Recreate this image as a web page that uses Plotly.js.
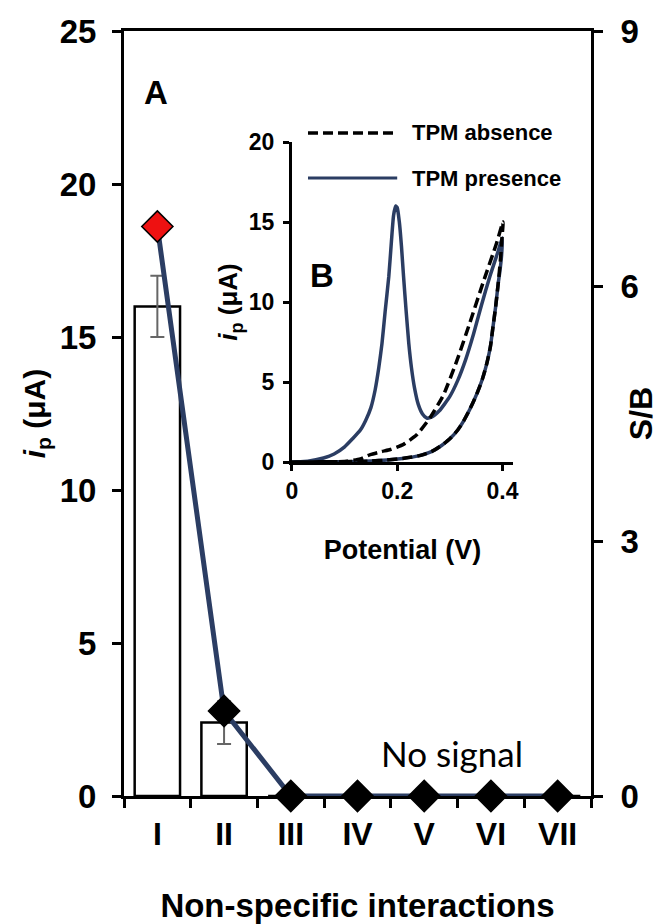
<!DOCTYPE html>
<html>
<head>
<meta charset="utf-8">
<script src="https://cdn.plot.ly/plotly-3.0.1.min.js"></script>
<style>html,body{margin:0;padding:0;background:#fff;}#chart{width:659px;height:924px;}</style>
</head>
<body>
<div id="chart"></div>
<script>
// ---- Main panel (A) data ----
var categories = ['I', 'II', 'III', 'IV', 'V', 'VI', 'VII'];
var ipValues = [16.0, 2.4, 0, 0, 0, 0, 0];
var ipErrors = [1.0, 0.7, 0, 0, 0, 0, 0];
var sbValues = [6.7, 1.0, 0, 0, 0, 0, 0];
var sbMarkerColors = ['#ee1111', '#000000', '#000000', '#000000', '#000000', '#000000', '#000000'];

// ---- Inset (B) data: voltammograms (forward scan then reverse scan) ----
var presenceX = [0.000, 0.030, 0.060, 0.080, 0.100, 0.115, 0.130, 0.140, 0.150, 0.158, 0.165, 0.171, 0.177, 0.184, 0.189, 0.193, 0.197, 0.200, 0.204, 0.208,
                 0.212, 0.217, 0.222, 0.227, 0.233, 0.240, 0.248, 0.256, 0.265, 0.280, 0.300, 0.315, 0.330, 0.345, 0.360, 0.376, 0.390, 0.400,
                 0.398, 0.395, 0.392, 0.387, 0.382, 0.377, 0.370, 0.362, 0.351, 0.338, 0.326, 0.315, 0.300, 0.285, 0.265, 0.240, 0.210, 0.180, 0.150, 0.100, 0.000];
var presenceY = [0.00, 0.05, 0.25, 0.50, 0.95, 1.45, 2.00, 2.60, 3.40, 4.50, 5.90, 7.40, 9.40, 11.6, 13.8, 15.4, 16.0, 15.9, 15.0, 13.5,
                 11.6, 9.40, 7.40, 5.90, 4.60, 3.60, 3.00, 2.75, 2.80, 3.20, 4.10, 5.10, 6.40, 8.00, 9.80, 11.6, 13.0, 14.0,
                 12.8, 11.9, 11.2, 9.70, 8.45, 7.20, 6.13, 5.20, 4.24, 3.30, 2.56, 2.00, 1.45, 1.05, 0.65, 0.38, 0.22, 0.12, 0.06, 0.02, 0.00];
var absenceX = [0.000, 0.060, 0.105, 0.130, 0.149, 0.170, 0.187, 0.212, 0.237, 0.263, 0.288, 0.313, 0.338, 0.363, 0.389, 0.401,
                0.399, 0.396, 0.392, 0.387, 0.382, 0.377, 0.370, 0.362, 0.351, 0.338, 0.326, 0.315, 0.300, 0.285, 0.265, 0.240, 0.210, 0.180, 0.150, 0.100, 0.000];
var absenceY = [0.00, 0.01, 0.04, 0.20, 0.46, 0.65, 0.78, 1.10, 1.70, 2.80, 4.20, 6.30, 8.70, 11.2, 13.7, 15.0,
                14.0, 12.6, 11.2, 9.70, 8.45, 7.20, 6.13, 5.20, 4.24, 3.30, 2.56, 2.00, 1.45, 1.05, 0.65, 0.38, 0.22, 0.12, 0.06, 0.02, 0.00];
var legendLabels = ['TPM absence', 'TPM presence'];

var FONT = 'Liberation Sans, Arial, sans-serif';
var NAVY = '#2b3d63';

var traces = [
  {
    type: 'bar', x: categories, y: ipValues, xaxis: 'x', yaxis: 'y',
    width: 0.68,
    marker: {color: '#ffffff', line: {color: '#000000', width: 2.5}},
    error_y: {type: 'data', array: ipErrors, visible: true, color: '#666666', thickness: 2, width: 7},
    showlegend: false, hoverinfo: 'skip'
  },
  {
    type: 'scatter', mode: 'lines+markers', x: categories, y: sbValues, xaxis: 'x', yaxis: 'y2',
    cliponaxis: false,
    line: {color: NAVY, width: 5},
    marker: {symbol: 'diamond', size: 24, color: sbMarkerColors, line: {color: '#000000', width: 1.5}},
    showlegend: false, hoverinfo: 'skip'
  },
  {
    type: 'scatter', mode: 'lines', x: presenceX, y: presenceY, xaxis: 'x2', yaxis: 'y3',
    name: legendLabels[1], cliponaxis: false,
    line: {color: NAVY, width: 3.5, shape: 'spline', smoothing: 0.5},
    showlegend: false, hoverinfo: 'skip'
  },
  {
    type: 'scatter', mode: 'lines', x: absenceX, y: absenceY, xaxis: 'x2', yaxis: 'y3',
    name: legendLabels[0], cliponaxis: false,
    line: {color: '#000000', width: 3.5, dash: '10px,5px', shape: 'spline', smoothing: 0.5},
    showlegend: false, hoverinfo: 'skip'
  }
];

var axisCommon = {
  showline: true, linecolor: '#000000', linewidth: 3,
  ticks: 'outside', tickcolor: '#000000', tickwidth: 3,
  showgrid: false, zeroline: false
};

var layout = {
  width: 659, height: 924,
  margin: {l: 124, r: 68, t: 31, b: 128},
  paper_bgcolor: '#ffffff', plot_bgcolor: 'rgba(0,0,0,0)',
  font: {family: FONT, color: '#000000'},
  showlegend: false,
  bargap: 0.32,
  xaxis: Object.assign({}, axisCommon, {
    type: 'category', range: [-0.5, 6.5], mirror: true,
    tickson: 'boundaries', ticklen: 9,
    tickfont: {size: 32, family: FONT, weight: 'bold'},
    ticklabelstandoff: 8,
    title: {text: '<b>Non-specific interactions</b>', font: {size: 33, family: FONT}, standoff: 44},
    automargin: false
  }),
  yaxis: Object.assign({}, axisCommon, {
    range: [0, 25], dtick: 5, ticklen: 9,
    tickfont: {size: 33, family: FONT, weight: 'bold'},
    ticklabelstandoff: 9,
    title: {text: '<b><i>i</i><sub>p</sub> (μA)</b>', font: {size: 30, family: FONT}, standoff: 6},
    automargin: false
  }),
  yaxis2: Object.assign({}, axisCommon, {
    overlaying: 'y', side: 'right', anchor: 'x',
    range: [0, 9], dtick: 3, ticklen: 9,
    tickfont: {size: 33, family: FONT, weight: 'bold'},
    ticklabelstandoff: 11,
    title: {text: '<b>S/B</b>', font: {size: 32, family: FONT}, standoff: 6},
    automargin: false
  }),
  xaxis2: Object.assign({}, axisCommon, {
    domain: [0.3597, 0.833], anchor: 'y3', range: [0, 0.42],
    tickvals: [0, 0.2, 0.4], ticklen: 6,
    tickfont: {size: 23, family: FONT, weight: 'bold'},
    title: {text: '<b>Potential (V)</b>', font: {size: 27, family: FONT}, standoff: 38},
    automargin: false
  }),
  yaxis3: Object.assign({}, axisCommon, {
    domain: [0.4366, 0.8549], anchor: 'x2', range: [0, 20], dtick: 5, ticklen: 6,
    tickfont: {size: 23, family: FONT, weight: 'bold'},
    ticklabelstandoff: 4,
    title: {text: '<b><i>i</i><sub>p</sub> (μA)</b>', font: {size: 26, family: FONT}, standoff: 4},
    automargin: false
  }),
  shapes: [
    {type: 'line', xref: 'paper', yref: 'paper', x0: 0.394, x1: 0.585, y0: 0.8667, y1: 0.8667,
     line: {color: '#000000', width: 3.5, dash: '10px,5px'}},
    {type: 'line', xref: 'paper', yref: 'paper', x0: 0.394, x1: 0.585, y0: 0.8078, y1: 0.8078,
     line: {color: NAVY, width: 3}}
  ],
  annotations: [
    {text: '<b>' + legendLabels[0] + '</b>', xref: 'paper', yref: 'paper', x: 0.612, y: 0.8667,
     xanchor: 'left', yanchor: 'middle', showarrow: false, font: {size: 22, family: FONT}},
    {text: '<b>' + legendLabels[1] + '</b>', xref: 'paper', yref: 'paper', x: 0.612, y: 0.8078,
     xanchor: 'left', yanchor: 'middle', showarrow: false, font: {size: 22, family: FONT}},
    {text: '<b>A</b>', xref: 'paper', yref: 'paper', x: 0.0685, y: 0.920,
     xanchor: 'center', yanchor: 'middle', showarrow: false, font: {size: 33, family: FONT}},
    {text: '<b>B</b>', xref: 'paper', yref: 'paper', x: 0.424, y: 0.681,
     xanchor: 'center', yanchor: 'middle', showarrow: false, font: {size: 33, family: FONT}},
    {text: 'No signal', xref: 'paper', yref: 'paper', x: 0.702, y: 0.056,
     xanchor: 'center', yanchor: 'middle', showarrow: false, font: {size: 35, family: 'Lato, sans-serif'}}
  ]
};

Plotly.newPlot('chart', traces, layout, {staticPlot: true, displayModeBar: false});
</script>
</body>
</html>
